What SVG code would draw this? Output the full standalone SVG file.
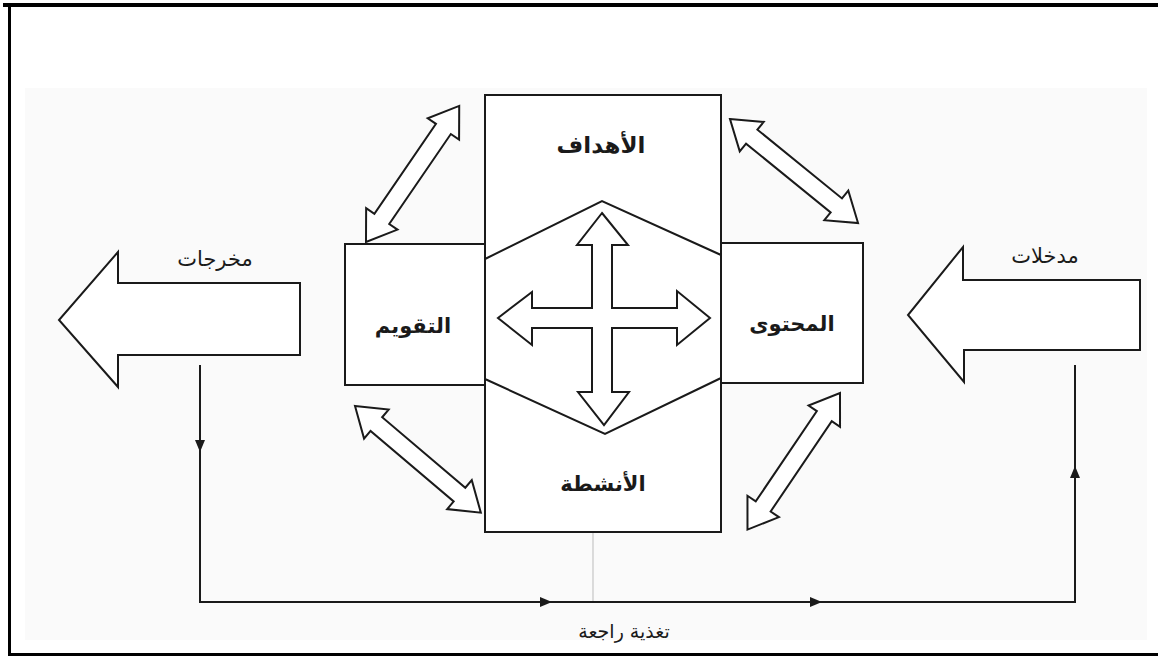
<svg xmlns="http://www.w3.org/2000/svg" width="1158" height="656" viewBox="0 0 1158 656">
<style>
.ln{fill:none;stroke:#1a1a1a;stroke-width:2}
.sh{fill:#ffffff;stroke:#1a1a1a;stroke-width:2;stroke-linejoin:miter}
.lbl{font-family:"DejaVu Sans",sans-serif;font-weight:bold;font-size:21px;fill:#1a1a1a;text-anchor:middle}
.lbl2{font-family:"DejaVu Sans",sans-serif;font-size:21px;fill:#1a1a1a;text-anchor:middle}
</style>
<defs>
<marker id="tri" viewBox="0 0 12 10" refX="12" refY="5" markerWidth="13" markerHeight="10" markerUnits="userSpaceOnUse" orient="auto">
<path d="M0,0 L12,5 L0,10 Z" fill="#1a1a1a"/>
</marker>
<path id="dbl" d="M0,0 L28,-19 L28,-9 L137,-9 L137,-19 L165,0 L137,19 L137,9 L28,9 L28,19 Z"/>
</defs>
<rect x="0" y="0" width="1158" height="656" fill="#ffffff"/>
<rect x="25" y="88" width="1122" height="552" fill="#fafafa"/>
<g id="frame">
<line x1="3" y1="5" x2="1158" y2="5" stroke="#000" stroke-width="4"/>
<line x1="9.5" y1="3" x2="9.5" y2="656" stroke="#000" stroke-width="3"/>
<line x1="8" y1="654.5" x2="1158" y2="654.5" stroke="#000" stroke-width="3"/>
</g>
<g id="connectors">
<line x1="593" y1="532" x2="593" y2="602" stroke="#bbbbbb" stroke-width="1"/>
<path class="ln" d="M200,365 V452" marker-end="url(#tri)"/>
<path class="ln" d="M200,446 V602 H552" marker-end="url(#tri)"/>
<path class="ln" d="M546,602 H822" marker-end="url(#tri)"/>
<path class="ln" d="M816,602 H1075 V466" marker-end="url(#tri)"/>
<path class="ln" d="M1075,472 V365"/>
<use href="#dbl" class="sh" transform="translate(366,242) rotate(-55.6)"/>
<use href="#dbl" class="sh" transform="translate(730,119) rotate(39.1)"/>
<use href="#dbl" class="sh" transform="translate(355,406) rotate(40.3)"/>
<use href="#dbl" class="sh" transform="translate(840,393) rotate(124.1)"/>
</g>
<g id="outputs">
<path class="sh" d="M300,283 L118,283 L118,252 L59,320 L118,387 L118,355 L300,355 Z"/>
<text class="lbl2" x="215" y="266">مخرجات</text>
</g>
<g id="inputs">
<path class="sh" d="M1140,280 L963,280 L963,247 L908,315 L964,382 L964,350 L1140,350 Z"/>
<text class="lbl2" x="1045" y="263">مدخلات</text>
</g>
<g id="evaluation">
<rect class="sh" x="345" y="244" width="140" height="141"/>
<text class="lbl" x="413" y="333">التقويم</text>
</g>
<g id="content">
<rect class="sh" x="721" y="243" width="142" height="140"/>
<text class="lbl" x="792" y="331">المحتوى</text>
</g>
<g id="center">
<rect class="sh" x="485" y="95" width="236" height="437"/>
<text class="lbl" x="601" y="153" style="font-size:23px">الأهداف</text>
<text class="lbl" x="603" y="491">الأنشطة</text>
<polygon class="sh" points="485,259 602,201 721,255 721,378 605,434 485,379"/>
<path class="sh" d="M602,213 L628,245 L612,245 L612,308 L677,308 L677,291 L710,318 L677,345 L677,328 L612,328 L612,392 L629,392 L604,425 L578,392 L592,392 L592,328 L532,328 L532,345 L498,318 L532,292 L532,308 L592,308 L592,245 L577,245 Z"/>
</g>
<text class="lbl2" x="624" y="638" style="font-size:19px">تغذية راجعة</text>
</svg>
